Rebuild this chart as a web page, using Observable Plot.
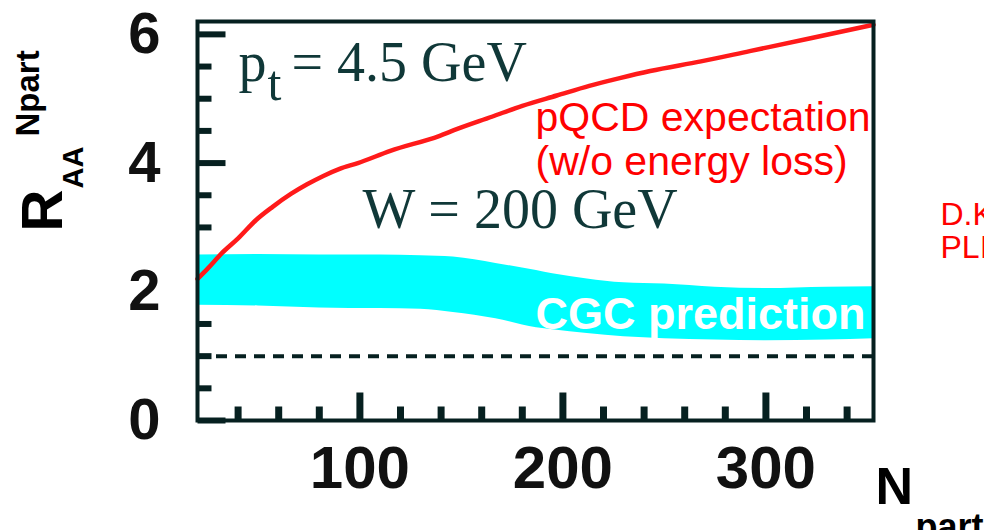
<!DOCTYPE html>
<html>
<head>
<meta charset="utf-8">
<script src="https://cdn.jsdelivr.net/npm/d3@7"></script>
<script src="https://cdn.jsdelivr.net/npm/@observablehq/plot@0.6"></script>
<style>
  html, body { margin: 0; padding: 0; background: #fff; }
</style>
</head>
<body>
<div id="chart"></div>
<script>
// pQCD expectation (no energy loss): R_AA^Npart versus N_part
const pqcdNpart = [20, 25, 32, 40, 49, 57, 66, 74, 82, 90, 99, 115, 139, 148, 165, 180, 197, 213, 228, 243, 268, 292, 322, 353];
const pqcdRaa   = [2.2, 2.36, 2.6, 2.83, 3.12, 3.32, 3.52, 3.67, 3.8, 3.91, 4.0, 4.19, 4.42, 4.53, 4.72, 4.89, 5.05, 5.2, 5.32, 5.43, 5.58, 5.74, 5.94, 6.15];

// CGC prediction band (lower / upper edge)
const cgcNpart = [20, 50, 80, 110, 130, 146, 167, 187, 195, 212, 230, 250, 275, 300, 330, 353];
const cgcLow   = [1.79, 1.78, 1.75, 1.74, 1.73, 1.68, 1.58, 1.44, 1.41, 1.35, 1.3, 1.27, 1.25, 1.24, 1.25, 1.27];
const cgcHigh  = [2.57, 2.58, 2.57, 2.57, 2.56, 2.54, 2.44, 2.33, 2.28, 2.2, 2.14, 2.12, 2.07, 2.05, 2.07, 2.08];

// binary-scaling reference level
const refLevel = [1];

// axis ticks
const xMajorTicks = [100, 200, 300];
const xMinorTicks = [40, 60, 80, 120, 140, 160, 180, 220, 240, 260, 280, 320, 340];
const yMajorTicks = [0, 2, 4, 6];
const yMinorTicks = [0.5, 1, 1.5, 2.5, 3, 3.5, 4.5, 5, 5.5];

const pqcd = pqcdNpart.map((n, i) => ({npart: n, raa: pqcdRaa[i]}));
const cgc = cgcNpart.map((n, i) => ({npart: n, low: cgcLow[i], high: cgcHigh[i]}));

const M = {top: 21, right: 111, bottom: 110, left: 197};
const ink = "#062020";
const noteInk = "#103838";
const sans = "Liberation Sans, Arial, sans-serif";
const serif = "Liberation Serif, Times New Roman, serif";

// a straight tick drawn from the anchor point along the vector direction
const tickShape = {draw(context, length) { context.moveTo(0, 0); context.lineTo(0, -length); }};

function inwardTicksX(values, length, width) {
  return Plot.vector(values, {x: d => d, frameAnchor: "bottom", rotate: 0, length, anchor: "start",
    shape: tickShape, stroke: ink, strokeWidth: width, strokeLinecap: "butt"});
}
function inwardTicksY(values, length, width) {
  return Plot.vector(values, {y: d => d, frameAnchor: "left", rotate: 90, length, anchor: "start",
    shape: tickShape, stroke: ink, strokeWidth: width, strokeLinecap: "butt"});
}

// text placed by its baseline start, in pixels of the SVG
function note(str, px, py, opts) {
  return Plot.text([str], {text: d => d, frameAnchor: "top-left", dx: px - M.left, dy: py - M.top,
    textAnchor: "start", lineAnchor: "bottom", ...opts});
}

const chart = Plot.plot({
  width: 984,
  height: 530,
  marginTop: M.top,
  marginRight: M.right,
  marginBottom: M.bottom,
  marginLeft: M.left,
  style: {fontFamily: sans, background: "#fff", overflow: "visible"},
  x: {domain: [20, 353], label: null},
  y: {domain: [0, 6.2], label: null},
  marks: [
    inwardTicksX(xMinorTicks, 14, 7),
    inwardTicksX(xMajorTicks, 28, 7),
    inwardTicksY(yMinorTicks, 14, 6),
    inwardTicksY(yMajorTicks, 28, 6),

    Plot.areaY(cgc, {x: "npart", y1: "low", y2: "high", fill: "#00ffff", curve: "monotone-x"}),
    Plot.ruleY(refLevel, {stroke: ink, strokeWidth: 4, strokeDasharray: "11,8"}),
    Plot.line(pqcd, {x: "npart", y: "raa", stroke: "#ff1a1a", strokeWidth: 4.5, curve: "monotone-x"}),
    Plot.frame({stroke: ink, strokeWidth: 4}),

    Plot.axisX(xMajorTicks, {anchor: "bottom", tickSize: 0, tickPadding: 25, tickFormat: d3.format("d"),
      fontSize: 60, fontWeight: "bold", fill: "#111", label: null}),
    Plot.axisY(yMajorTicks, {anchor: "left", tickSize: 0, tickPadding: 37, tickFormat: d3.format("d"),
      fontSize: 58, fontWeight: "bold", fill: "#111", label: null}),

    // in-plot annotations
    note("p", 238, 80, {fontFamily: serif, fontSize: 56, fill: noteInk}),
    note("t", 267, 99, {fontFamily: serif, fontSize: 50, fill: noteInk}),
    note("= 4.5 GeV", 291, 80, {fontFamily: serif, fontSize: 56, fill: noteInk}),
    note("W = 200 GeV", 362, 227, {fontFamily: serif, fontSize: 56, fill: noteInk}),
    note("pQCD expectation", 535, 130, {fontSize: 41, fill: "#ff0000"}),
    note("(w/o energy loss)", 535, 174, {fontSize: 41, fill: "#ff0000"}),
    note("CGC prediction", 535, 328, {fontSize: 45, fontWeight: "bold", fill: "#ffffff"}),
    note("D.K", 940, 224, {fontSize: 32, fill: "#ff0000"}),
    note("PLI", 940, 257, {fontSize: 32, fill: "#ff0000"}),

    // axis titles
    note("N", 875, 503, {fontSize: 52, fontWeight: "bold", fill: "#000"}),
    note("part", 915, 538, {fontSize: 36, fontWeight: "bold", fill: "#000"}),
    note("R", 61, 231, {fontSize: 58, fontWeight: "bold", fill: "#000", rotate: -90}),
    note("AA", 82, 188, {fontSize: 29, fontWeight: "bold", fill: "#000", rotate: -90}),
    note("Npart", 38, 136, {fontSize: 33, fontWeight: "bold", fill: "#000", rotate: -90})
  ]
});

document.getElementById("chart").appendChild(chart);
</script>
</body>
</html>
